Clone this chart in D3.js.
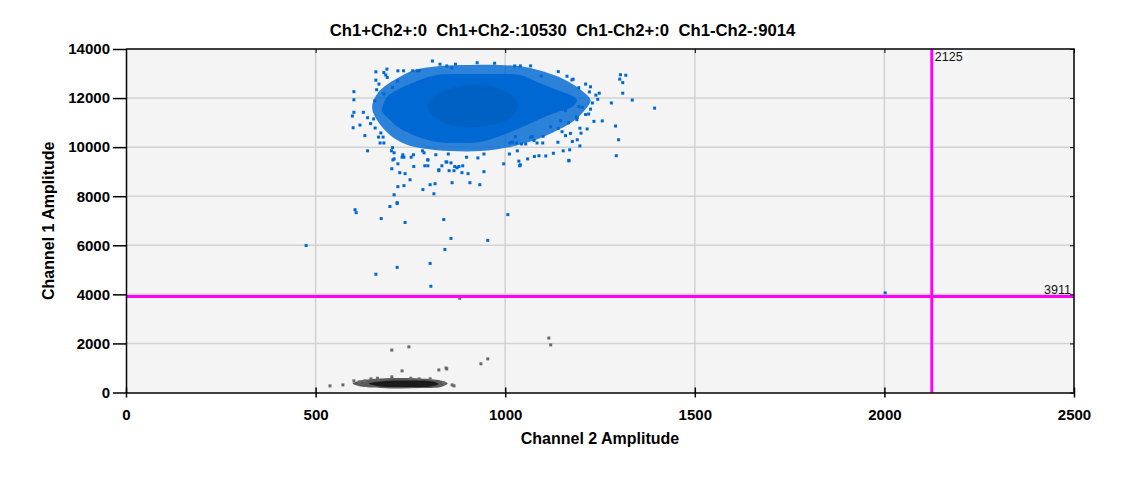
<!DOCTYPE html>
<html>
<head>
<meta charset="utf-8">
<script src="https://cdn.jsdelivr.net/npm/d3@7"></script>
<style>
  body { margin: 0; background: #fff; }
  text { font-family: "Liberation Sans", Arial, sans-serif; }
</style>
</head>
<body>
<div id="chart"></div>
<script>
const titleText = "Ch1+Ch2+:0  Ch1+Ch2-:10530  Ch1-Ch2+:0  Ch1-Ch2-:9014";
const xLabel = "Channel 2 Amplitude";
const yLabel = "Channel 1 Amplitude";
const xTicks = [0, 500, 1000, 1500, 2000, 2500];
const yTicks = [0, 2000, 4000, 6000, 8000, 10000, 12000, 14000];
const xThreshold = 2125;
const yThreshold = 3911;

// Ch1+ cluster, sparse outer edge [ch2, ch1]
const posFringe = [
    [649, 11600], [659, 12090], [683, 12490], [717, 12820], [762, 13150], [828, 13310],
    [907, 13350], [986, 13350], [1052, 13270], [1105, 13060], [1158, 12740], [1200, 12330],
    [1225, 11920], [1210, 11510], [1184, 11110], [1139, 10700], [1079, 10290], [1013, 10010],
    [934, 9840], [854, 9840], [789, 9930], [736, 10130], [696, 10500], [665, 11030]
];
// solid part
const posBody = [
    [678, 11720], [691, 12090], [715, 12330], [736, 12490], [775, 12740], [820, 12940],
    [881, 12980], [960, 12980], [1039, 12940], [1084, 12660], [1137, 12330], [1176, 12090],
    [1189, 11920], [1176, 11640], [1145, 11470], [1110, 11270], [1057, 10900], [994, 10500],
    [934, 10210], [881, 10170], [820, 10210], [757, 10500], [717, 10820], [691, 11190],
    [675, 11470]
];
// densest middle
const posCore = [
    [796, 11600], [815, 12090], [860, 12410], [920, 12530], [981, 12410], [1018, 12090],
    [1034, 11640], [1013, 11190], [960, 10900], [894, 10820], [833, 11030]
];
// single droplets around the Ch1+ cluster
const posDroplets = [
    [659, 13070], [680, 13040], [688, 13180], [689, 12840], [667, 12570], [661, 12340],
    [601, 12260], [601, 11930], [656, 11890], [680, 12170], [601, 11420], [597, 11270],
    [626, 11420], [637, 11200], [617, 10900], [599, 10790], [645, 10960], [657, 10780],
    [630, 10470], [672, 10580], [670, 10170], [680, 10170], [637, 9850], [703, 9980],
    [707, 9770], [707, 9520], [730, 9690], [758, 9690], [796, 9480], [817, 9690],
    [846, 9390], [786, 9770], [732, 13110], [716, 12700], [703, 12430], [768, 13110],
    [808, 13510], [828, 13380], [846, 13310], [859, 13240], [869, 13380], [926, 13440],
    [972, 13420], [1025, 13310], [1040, 13310], [1067, 13310], [1095, 12900], [1140, 13080],
    [1179, 12770], [1212, 12570], [1225, 12460], [1248, 12200], [1304, 12950], [1318, 12930],
    [1310, 12630], [1310, 12200], [1335, 11920], [1394, 11590], [1280, 11800], [1256, 11070],
    [1291, 10860], [1299, 10300], [1293, 9650], [1194, 11650], [1220, 11350], [1190, 11210],
    [1197, 10770], [1216, 10740], [1190, 10300], [1168, 9460], [1127, 9750], [1089, 9650],
    [1077, 9620], [1036, 9430], [1038, 9240], [996, 9320], [1170, 9890], [1139, 10200],
    [1172, 10560], [1150, 10630], [1071, 10430], [1019, 10200], [1027, 10430], [1225, 11550],
    [1203, 11620], [1212, 11330], [1188, 11240], [1167, 10990], [1159, 10470], [1197, 10050],
    [1099, 10170], [1054, 10130], [1043, 10130], [1012, 10170], [1032, 9850], [1040, 9280],
    [1148, 11550], [1140, 10770], [1100, 10440], [1067, 10400], [1120, 10830], [1146, 11080],
    [1159, 11480], [1239, 12120], [1302, 12770], [1189, 11120], [1084, 10170], [1076, 10270],
    [1030, 10170], [759, 9210], [733, 9590], [825, 9080], [867, 9210], [878, 9210],
    [928, 9560], [701, 9120], [717, 9320], [722, 8960], [736, 8920], [788, 9240],
    [796, 9240], [825, 9040], [833, 9240], [844, 9400], [857, 9360], [852, 9040],
    [865, 9040], [873, 9160], [888, 9240], [886, 8960], [902, 8920], [944, 9000],
    [1168, 9440], [749, 8670], [717, 8390], [733, 8430], [802, 8470], [815, 8510],
    [860, 8550], [907, 8550], [933, 8470], [783, 8270], [812, 8100], [707, 8060],
    [715, 7740], [715, 7700], [696, 7580], [604, 7450], [607, 7330], [673, 7090],
    [736, 6930], [838, 7050], [1007, 7250], [857, 6280], [954, 6200], [475, 5990],
    [841, 5830], [802, 5260], [715, 5100], [659, 4820], [804, 4330], [2002, 4060],
    [700, 9850], [704, 9480], [728, 9590], [752, 9590], [782, 9850], [796, 9480],
    [850, 9720], [898, 9590], [944, 9720], [1011, 9720], [1059, 9520], [1107, 9640],
    [1153, 9850], [1177, 10230], [1200, 10570], [1234, 11050], [653, 11150], [666, 10410],
    [678, 10410], [659, 12730], [685, 12940], [717, 13110], [756, 13110], [774, 13110],
    [1163, 12890], [1194, 12420], [1176, 12740], [1230, 11800], [1244, 11950], [1222, 12250]
];

// Ch1- cluster near the bottom
const negBody = [
    [598, 365], [619, 487], [672, 568], [724, 588], [777, 568], [830, 487],
    [848, 365], [830, 223], [777, 183], [724, 162], [672, 183], [619, 243]
];
const negCore = [
    [640, 365], [685, 467], [751, 487], [809, 446], [824, 345], [803, 243],
    [738, 223], [672, 243]
];
const negDroplets = [
    [701, 1730], [746, 1860], [728, 880], [825, 920], [844, 1000], [846, 960],
    [936, 1170], [954, 1370], [1115, 2220], [1120, 1940], [538, 270], [572, 310],
    [865, 270], [860, 310], [701, 640], [601, 475], [615, 434], [646, 556],
    [773, 556], [802, 556], [838, 394], [630, 475], [663, 580], [751, 580],
    [880, 3840]
];

function init() {
    const width = 1125;
    const height = 478;
    const margin = { left: 126, right: 51, top: 49, bottom: 85.5 };

    const svg = d3.select("#chart")
        .append("svg")
        .attr("width", width)
        .attr("height", height);

    const x = d3.scaleLinear()
        .domain([0, 2500])
        .range([margin.left, width - margin.right]);

    const y = d3.scaleLinear()
        .domain([0, 14000])
        .range([height - margin.bottom, margin.top]);

    const [x0, x1] = x.range();
    const [y0, y1] = y.range();

    // plot background
    svg.append("rect")
        .attr("x", x0).attr("y", y1)
        .attr("width", x1 - x0).attr("height", y0 - y1)
        .attr("fill", "#f4f4f4");

    // grid
    const grid = svg.append("g")
        .attr("stroke", "#d2d2d2")
        .attr("stroke-width", 1.5);
    grid.selectAll(".gx")
        .data(xTicks.slice(1, -1))
        .join("line")
        .attr("x1", d => x(d)).attr("x2", d => x(d))
        .attr("y1", y1).attr("y2", y0);
    grid.selectAll(".gy")
        .data(yTicks.slice(1, -1))
        .join("line")
        .attr("x1", x0).attr("x2", x1)
        .attr("y1", d => y(d)).attr("y2", d => y(d));

    const blob = d3.line()
        .x(d => x(d[0]))
        .y(d => y(d[1]))
        .curve(d3.curveCatmullRomClosed);

    // Ch1+ cluster
    svg.append("path").attr("d", blob(posFringe)).attr("fill", "#0068d2").attr("opacity", 0.82);
    svg.append("path").attr("d", blob(posBody)).attr("fill", "#0068d2");
    svg.append("path").attr("d", blob(posCore)).attr("fill", "#004c9e").attr("opacity", 0.25);

    svg.append("g")
        .selectAll("rect")
        .data(posDroplets)
        .join("rect")
        .attr("x", d => x(d[0]) - 1.5)
        .attr("y", d => y(d[1]) - 1.5)
        .attr("width", 3).attr("height", 3)
        .attr("fill", "#0068d2");

    // Ch1- cluster
    svg.append("path").attr("d", blob(negBody)).attr("fill", "#5a5a5a");
    svg.append("path").attr("d", blob(negCore)).attr("fill", "#111111").attr("opacity", 0.85);

    svg.append("g")
        .selectAll("rect")
        .data(negDroplets)
        .join("rect")
        .attr("x", d => x(d[0]) - 1.5)
        .attr("y", d => y(d[1]) - 1.5)
        .attr("width", 3).attr("height", 3)
        .attr("fill", "#6a6a6a");

    // thresholds
    svg.append("line")
        .attr("x1", x(xThreshold)).attr("x2", x(xThreshold))
        .attr("y1", y1).attr("y2", y0)
        .attr("stroke", "#ff00ff").attr("stroke-width", 3);
    svg.append("line")
        .attr("x1", x0).attr("x2", x1)
        .attr("y1", y(yThreshold)).attr("y2", y(yThreshold))
        .attr("stroke", "#ff00ff").attr("stroke-width", 3);

    svg.append("text")
        .attr("x", x(xThreshold) + 3).attr("y", y1 + 12)
        .attr("font-size", 12.5)
        .attr("fill", "#111")
        .text(xThreshold);
    svg.append("text")
        .attr("x", x1 - 3).attr("y", y(yThreshold) - 3)
        .attr("text-anchor", "end")
        .attr("font-size", 12.5)
        .attr("fill", "#111")
        .text(yThreshold);

    // frame (top and right)
    svg.append("path")
        .attr("d", `M${x0},${y1}H${x1}V${y0}`)
        .attr("fill", "none")
        .attr("stroke", "#000")
        .attr("stroke-width", 1.5);

    const topTicks = svg.append("g")
        .attr("transform", `translate(0,${y1})`)
        .call(d3.axisBottom(x).tickValues(xTicks).tickSize(4).tickFormat(""));
    topTicks.select(".domain").remove();

    const rightTicks = svg.append("g")
        .attr("transform", `translate(${x1},0)`)
        .call(d3.axisLeft(y).tickValues(yTicks).tickSize(4).tickFormat(""));
    rightTicks.select(".domain").remove();

    // bottom axis
    const xAxis = svg.append("g")
        .attr("transform", `translate(0,${y0})`)
        .call(d3.axisBottom(x).tickValues(xTicks).tickFormat(d3.format("d"))
            .tickSize(5).tickSizeOuter(0).tickPadding(12));
    xAxis.selectAll(".tick line").attr("y1", -5).attr("y2", 5);
    xAxis.selectAll("text")
        .attr("font-size", 15).attr("font-weight", "bold")
        .attr("font-family", "Liberation Sans, Arial, sans-serif")
        .attr("fill", "#000");
    xAxis.selectAll("path, line").attr("stroke-width", 1.5);

    // left axis
    const yAxis = svg.append("g")
        .attr("transform", `translate(${x0},0)`)
        .call(d3.axisLeft(y).tickValues(yTicks).tickFormat(d3.format("d"))
            .tickSize(13).tickSizeOuter(0).tickPadding(3));
    yAxis.selectAll("text")
        .attr("font-size", 15).attr("font-weight", "bold")
        .attr("font-family", "Liberation Sans, Arial, sans-serif")
        .attr("fill", "#000");
    yAxis.selectAll("path, line").attr("stroke-width", 1.5);

    // titles
    svg.append("text")
        .attr("x", width / 2).attr("y", 36)
        .attr("text-anchor", "middle")
        .attr("font-size", 16.7).attr("font-weight", "bold")
        .style("white-space", "pre")
        .text(titleText);

    svg.append("text")
        .attr("x", (x0 + x1) / 2).attr("y", 444)
        .attr("text-anchor", "middle")
        .attr("font-size", 16).attr("font-weight", "bold")
        .text(xLabel);

    svg.append("text")
        .attr("transform", `translate(54,${(y0 + y1) / 2}) rotate(-90)`)
        .attr("text-anchor", "middle")
        .attr("font-size", 16).attr("font-weight", "bold")
        .text(yLabel);
}

window.onload = init;
</script>
</body>
</html>
